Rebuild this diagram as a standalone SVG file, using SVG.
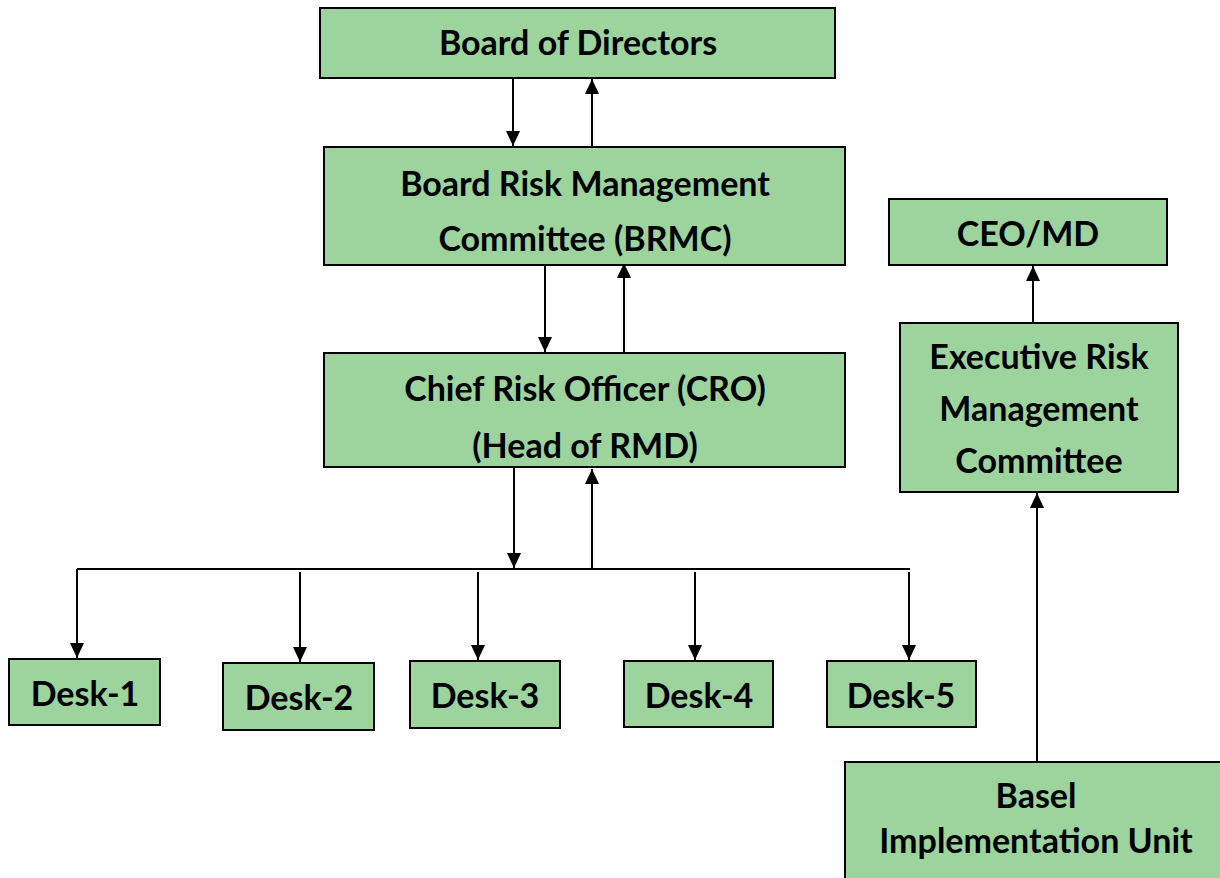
<svg xmlns="http://www.w3.org/2000/svg" width="1220" height="878" viewBox="0 0 1220 878">
<defs>
<marker id="ah" viewBox="0 0 15 14" refX="15" refY="7" markerWidth="15" markerHeight="14" markerUnits="userSpaceOnUse" orient="auto">
<path d="M0,0 L15,7 L0,14 Z" fill="#000"/>
</marker>
<style>
.box{fill:#9dd39d;stroke:#000;stroke-width:2}
.t{font-family:"Lato","Open Sans",sans-serif;font-weight:bold;font-size:34px;fill:#000;text-anchor:middle}
.c{stroke:#000;stroke-width:2;fill:none}
.a{stroke:#000;stroke-width:2;fill:none;marker-end:url(#ah)}
</style>
</defs>
<rect width="1220" height="878" fill="#fff"/>
<g id="connectors">
<line class="a" x1="513" y1="79" x2="513" y2="146"/>
<line class="a" x1="592" y1="146" x2="592" y2="79"/>
<line class="a" x1="545" y1="266" x2="545" y2="352"/>
<line class="a" x1="624" y1="352" x2="624" y2="263"/>
<line class="a" x1="514" y1="468" x2="514" y2="568"/>
<line class="a" x1="592" y1="568" x2="592" y2="469"/>
<line class="c" x1="77" y1="569" x2="910" y2="569"/>
<line class="a" x1="77" y1="569" x2="77" y2="658"/>
<line class="a" x1="300" y1="572" x2="300" y2="662"/>
<line class="a" x1="478" y1="572" x2="478" y2="660"/>
<line class="a" x1="695" y1="572" x2="695" y2="660"/>
<line class="a" x1="909" y1="572" x2="909" y2="660"/>
<line class="a" x1="1033" y1="322" x2="1033" y2="266"/>
<line class="a" x1="1037" y1="761" x2="1037" y2="493"/>
</g>
<g id="board"><rect class="box" x="320" y="8" width="515" height="70"/><text class="t" x="578" y="55">Board of Directors</text></g>
<g id="brmc"><rect class="box" x="324" y="147" width="521" height="118"/><text class="t" x="585" y="196">Board Risk Management</text><text class="t" x="585" y="251">Committee (BRMC)</text></g>
<g id="cro"><rect class="box" x="324" y="353" width="521" height="114"/><text class="t" x="585" y="401">Chief Risk Officer (CRO)</text><text class="t" x="585" y="458">(Head of RMD)</text></g>
<g id="desk1"><rect class="box" x="9" y="659" width="151" height="66"/><text class="t" x="85" y="706">Desk-1</text></g>
<g id="desk2"><rect class="box" x="223" y="663" width="151" height="67"/><text class="t" x="299" y="710">Desk-2</text></g>
<g id="desk3"><rect class="box" x="410" y="661" width="150" height="67"/><text class="t" x="485" y="708">Desk-3</text></g>
<g id="desk4"><rect class="box" x="624" y="661" width="149" height="66"/><text class="t" x="699" y="708">Desk-4</text></g>
<g id="desk5"><rect class="box" x="827" y="661" width="149" height="66"/><text class="t" x="901" y="708">Desk-5</text></g>
<g id="ceo"><rect class="box" x="889" y="199" width="278" height="66"/><text class="t" x="1028" y="246">CEO/MD</text></g>
<g id="ermc"><rect class="box" x="900" y="323" width="278" height="169"/><text class="t" x="1039" y="369">Executive Risk</text><text class="t" x="1039" y="421">Management</text><text class="t" x="1039" y="473">Committee</text></g>
<g id="basel"><rect class="box" x="845" y="762" width="380" height="122"/><text class="t" x="1036" y="808">Basel</text><text class="t" x="1036" y="853">Implementation Unit</text></g>
</svg>
